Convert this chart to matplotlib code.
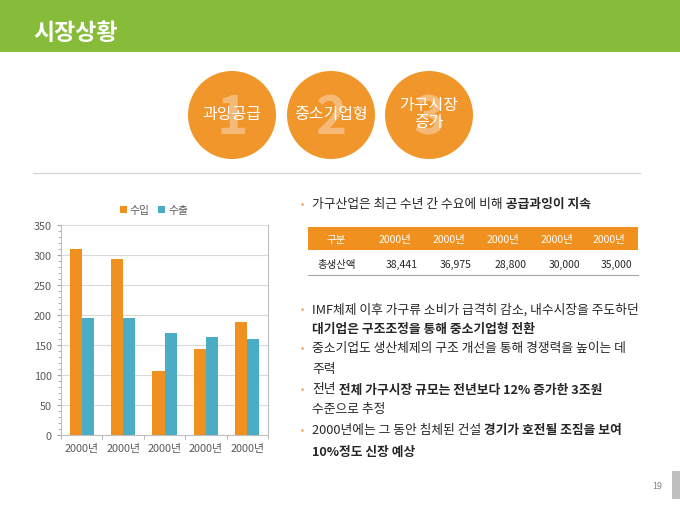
import matplotlib
matplotlib.use("Agg")
import matplotlib.pyplot as plt
import matplotlib.patches as patches
from matplotlib.ticker import MultipleLocator
import numpy as np

plt.rcParams['font.family'] = ['Noto Sans CJK KR', 'DejaVu Sans']

# ---- data ----
years = ['2000년', '2000년', '2000년', '2000년', '2000년']
imports = [310, 293, 106, 143, 188]   # 수입
exports = [195, 195, 170, 163, 160]   # 수출

table_header = ['구분', '2000년', '2000년', '2000년', '2000년', '2000년']
table_label = '총생산액'
table_values = ['38,441', '36,975', '28,800', '30,000', '35,000']

circle_labels = ['과잉공급', '중소기업형', '가구시장\n증가']
circle_numbers = ['1', '2', '3']

# bullet lines: (starts with bullet, [(text, weight), ...])
bullet_lines = [
    (True, [('IMF체제 이후 가구류 소비가 급격히 감소, 내수시장을 주도하던', 'normal')]),
    (False, [('대기업은 구조조정을 통해 중소기업형 전환', 'bold')]),
    (True, [('중소기업도 생산체제의 구조 개선을 통해 경쟁력을 높이는 데', 'normal')]),
    (False, [('주력', 'normal')]),
    (True, [('전년', 'normal'), (' 전체 가구시장 규모는 전년보다 12% 증가한 3조원', 'bold')]),
    (False, [('수준으로 추정', 'normal')]),
    (True, [('2000년에는 그 동안 침체된 건설', 'normal'), (' 경기가 호전될 조짐을 보여', 'bold')]),
    (False, [('10%정도 신장 예상', 'bold')]),
]

orange = '#F0901E'
blue = '#4BACC6'
green = '#86BC3A'
text_col = '#262626'

W, H = 680, 510
fig = plt.figure(figsize=(W / 100, H / 100), dpi=100)
bg = fig.add_axes([0, 0, 1, 1])
bg.set_xlim(0, W)
bg.set_ylim(H, 0)
bg.axis('off')

# header bar
bg.add_patch(patches.Rectangle((0, 0), W, 53, color=green, lw=0))
bg.text(33, 34, '시장상황', color='white', fontsize=16.5, fontweight='bold', va='center', ha='left')

# circles
cx = [232, 331, 429]
for i in range(3):
    bg.add_patch(patches.Circle((cx[i], 116), 44, color='#F0962A', lw=0))
    bg.text(cx[i], 119, circle_numbers[i], color='#F5BA78', fontsize=38, fontweight='bold',
            ha='center', va='center')
    bg.text(cx[i], 114, circle_labels[i], color='white', fontsize=11.5, ha='center', va='center',
            linespacing=0.95)

# separator
bg.plot([33, 640], [174, 174], color='#D9D9D9', lw=1)


def rich_line(x, y, parts, size=9.2):
    t = bg.text(x, y, parts[0][0], fontweight=parts[0][1], fontsize=size, color=text_col,
                ha='left', va='center')
    for s, w in parts[1:]:
        t = bg.annotate(s, xy=(1, 0), xycoords=t, va='bottom', ha='left', fontweight=w,
                        fontsize=size, color=text_col)


# first bullet
bg.text(302, 205, '•', color='#E9A04F', fontsize=7, ha='center', va='center')
rich_line(312, 205, [('가구산업은 최근 수년 간 수요에 비해', 'normal'), (' 공급과잉이 지속', 'bold')])

# table
bg.add_patch(patches.Rectangle((308, 228), 330, 23, color=orange, lw=0))
hx = [336, 395, 449, 503, 557, 609]
for x, s in zip(hx, table_header):
    bg.text(x, 240, s, color='white', fontsize=7.5, ha='center', va='center')
bg.text(337, 265, table_label, color=text_col, fontsize=7.5, ha='center', va='center')
vx = [418, 472, 527, 580, 632]
for x, s in zip(vx, table_values):
    bg.text(x, 265, s, color=text_col, fontsize=7.5, ha='right', va='center')
bg.plot([308, 638], [276, 276], color='#A6A6A6', lw=0.8)

# other bullets
ys = [310, 329, 349, 370, 390, 410, 431, 452]
for (has_bullet, parts), y in zip(bullet_lines, ys):
    if has_bullet:
        bg.text(302, y, '•', color='#E9A04F', fontsize=7, ha='center', va='center')
    rich_line(312, y, parts)

# page number
bg.text(657, 487, '19', color='#808080', fontsize=6.5, ha='center', va='center')
bg.add_patch(patches.Rectangle((672, 472), 8, 28, color='#BFBFBF', lw=0))

# ---- bar chart ----
left, right, top, bottom = 61, 268, 226, 436
ax = fig.add_axes([left / W, (H - bottom) / H, (right - left) / W, (bottom - top) / H])
x = np.arange(len(years))
bw = 0.29
ax.bar(x - bw / 2, imports, bw, color=orange, label='수입', zorder=3)
ax.bar(x + bw / 2, exports, bw, color=blue, label='수출', zorder=3)
ax.set_xlim(-0.5, 4.5)
ax.set_ylim(0, 350)
ax.yaxis.set_major_locator(MultipleLocator(50))
ax.yaxis.set_minor_locator(MultipleLocator(10))
ax.set_xticks(x)
ax.set_xticklabels(years)
ax.set_xticks(np.arange(-0.5, 5, 1), minor=True)
ax.tick_params(axis='x', which='major', length=0, labelsize=7.8, labelcolor='#595959', pad=6)
ax.tick_params(axis='x', which='minor', length=3, color='#A6A6A6', direction='out')
ax.tick_params(axis='y', which='major', length=3, color='#A6A6A6', labelsize=7.8, labelcolor='#595959')
ax.tick_params(axis='y', which='minor', length=2, color='#A6A6A6')
ax.grid(axis='y', color='#D9D9D9', lw=0.8, zorder=0)
for sp in ax.spines.values():
    sp.set_color('#BFBFBF')
    sp.set_linewidth(0.8)
ax.spines['top'].set_visible(False)
ax.legend(loc='lower center', bbox_to_anchor=(0.45, 1.0), ncol=2, frameon=False, fontsize=7.8,
          handlelength=0.6, handleheight=0.6, handletextpad=0.3, columnspacing=0.8,
          labelcolor='#595959')

fig.savefig('out.png', dpi=100)
